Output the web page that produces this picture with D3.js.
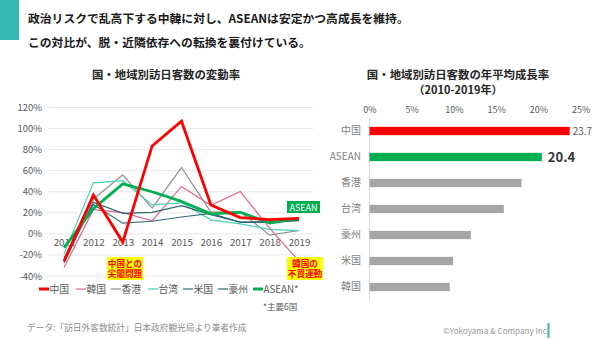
<!DOCTYPE html>
<html><head><meta charset="utf-8">
<script src="https://cdn.jsdelivr.net/npm/d3@7"></script>
<style>
html,body{margin:0;padding:0;background:#fff;}
svg{display:block;font-family:"Noto Sans CJK JP","Noto Sans",sans-serif;}
</style></head>
<body><svg id="c" width="600" height="339"></svg>
<script>
const years = [2011,2012,2013,2014,2015,2016,2017,2018,2019];
const seriesNames = ["中国","韓国","香港","台湾","米国","豪州","ASEAN*"];
const china  = [-26, 37, -7.8, 83.5, 107, 27.5, 15.4, 13.6, 14.7];
const korea  = [-32, 23, 20.2, 12.4, 45, 27.2, 40.2, 5.4, -26];
const hk     = [-28, 33, 56, 24.5, 63, 20.7, 21, -1.2, 3.2];
const taiwan = [-19, 48.5, 50.5, 27.5, 29.5, 13.3, 9.5, 4.2, 3];
const usa    = [-23, 28, 10.2, 12, 16, 19.5, 11, 11, 12.8];
const aus    = [-27, 30, 19.5, 20.5, 26.8, 18.3, 11.2, 11.6, 12.5];
const asean  = [-13, 24, 47.5, 40, 30.8, 19, 20.5, 10.3, 14.8];
const yTicks = [-40,-20,0,20,40,60,80,100,120];

const barCats = ["中国","ASEAN","香港","台湾","豪州","米国","韓国"];
const barVals = [23.7, 20.4, 18.0, 15.9, 12.0, 9.9, 9.5];
const barTicks = [0,5,10,15,20,25];

const svg = d3.select("#c");
const F = '"Noto Sans CJK JP","Noto Sans",sans-serif';

// header
svg.append("rect").attr("x",0).attr("y",0).attr("width",19).attr("height",40).attr("fill","#38b6b4");
svg.append("text").attr("x",28).attr("y",23).attr("font-size",11.8).attr("font-weight","bold").attr("fill","#1a1a1a")
  .text("政治リスクで乱高下する中韓に対し、ASEANは安定かつ高成長を維持。");
svg.append("text").attr("x",28).attr("y",47).attr("font-size",11.8).attr("font-weight","bold").attr("fill","#1a1a1a")
  .text("この対比が、脱・近隣依存への転換を裏付けている。");

// ===== Left line chart =====
const x = d3.scalePoint().domain(years).range([64,299]);
const y = d3.scaleLinear().domain([-40,120]).range([276,107.5]);

svg.append("text").attr("x",166).attr("y",79).attr("text-anchor","middle").attr("font-size",11.4)
  .attr("font-weight","bold").attr("fill","#262626").text("国・地域別訪日客数の変動率");

svg.append("g").selectAll("line").data(yTicks).join("line")
  .attr("x1",49).attr("x2",313).attr("y1",d=>y(d)).attr("y2",d=>y(d))
  .attr("stroke","#e6e6e6").attr("stroke-width",1);
const yAx = d3.axisLeft(y).tickValues(yTicks).tickFormat(d=>d+"%").tickSize(0).tickPadding(0);
const yg = svg.append("g").attr("transform","translate(42,0)").call(yAx);
yg.select(".domain").remove();
yg.selectAll("text").attr("font-size",9.5).attr("fill","#595959").attr("font-family",F);

const xAx = d3.axisBottom(x).tickSize(0).tickPadding(5);
const xg = svg.append("g").attr("transform",`translate(0,${y(0)})`).call(xAx);
xg.select(".domain").remove();
xg.selectAll("text").attr("font-size",9.8).attr("fill","#595959").attr("font-family",F);

const line = d3.line().x((d,i)=>x(years[i])).y(d=>y(d));
const thin = [
  {v:korea, c:"#e8638c"},
  {v:hk, c:"#8c8c8c"},
  {v:taiwan, c:"#45d4b4"},
  {v:usa, c:"#2f6f80"},
  {v:aus, c:"#2c6474"}
];
thin.forEach(s=>{
  svg.append("path").attr("d",line(s.v)).attr("fill","none").attr("stroke",s.c).attr("stroke-width",1.2);
});
svg.append("path").attr("d",line(asean)).attr("fill","none").attr("stroke","#00b050").attr("stroke-width",2.8).attr("stroke-linejoin","round");
svg.append("path").attr("d",line(china)).attr("fill","none").attr("stroke","#ff0000").attr("stroke-width",2.8).attr("stroke-linejoin","miter");

// annotations
function note(cx, top, lines){
  svg.append("rect").attr("x",cx-18).attr("y",top).attr("width",36).attr("height",23).attr("fill","#ffff00");
  const t = svg.append("text").attr("x",cx).attr("y",top+9.5).attr("text-anchor","middle")
      .attr("font-size",8.6).attr("font-weight","bold").attr("fill","#ff0000");
  lines.forEach((s,i)=>{
    t.append("tspan").attr("x",cx).attr("dy",i===0?0:10.5).text(s);
  });
}
note(125, 257, ["中国との","尖閣問題"]);
note(305, 257, ["韓国の","不買運動"]);

svg.append("rect").attr("x",287).attr("y",201).attr("width",33).attr("height",12).attr("fill","#00b050");
svg.append("text").attr("x",303.5).attr("y",210.5).attr("text-anchor","middle").attr("font-size",9)
  .attr("fill","#ffffff").text("ASEAN");

// legend
const legColors = ["#ff0000","#e8638c","#8c8c8c","#45d4b4","#2f6f80","#2c6474","#00b050"];
const legX = [39,76,111,148,183,218,253];
seriesNames.forEach((n,i)=>{
  const thick = (i===0||i===6);
  svg.append("line").attr("x1",legX[i]).attr("x2",legX[i]+10).attr("y1",289).attr("y2",289)
    .attr("stroke",legColors[i]).attr("stroke-width",thick?3:1.2);
  svg.append("text").attr("x",legX[i]+10.5).attr("y",292.8).attr("font-size",9.8).attr("fill","#595959").text(n);
});
svg.append("text").attr("x",263).attr("y",310).attr("font-size",8.5).attr("fill","#595959").text("*主要6国");

svg.append("text").attr("x",27).attr("y",331).attr("font-size",8.7).attr("fill","#8c8c8c")
  .text("データ:「訪日外客数統計」日本政府観光局より筆者作成");

// ===== Right bar chart =====
svg.append("text").attr("x",458).attr("y",79).attr("text-anchor","middle").attr("font-size",11.4)
  .attr("font-weight","bold").attr("fill","#262626").text("国・地域別訪日客数の年平均成長率");
svg.append("text").attr("x",458).attr("y",93.5).attr("text-anchor","middle").attr("font-size",11)
  .attr("font-weight","bold").attr("fill","#262626").text("（2010-2019年）");

const bx = d3.scaleLinear().domain([0,25]).range([369.5,580.7]);
const by = d3.scaleBand().domain(barCats).range([118,300]).paddingInner(0.68).paddingOuter(0.34);

const bxAx = d3.axisTop(bx).tickValues(barTicks).tickFormat(d=>d+"%").tickSize(0).tickPadding(0);
const bxg = svg.append("g").attr("transform","translate(0,113)").call(bxAx);
bxg.select(".domain").remove();
bxg.selectAll("text").attr("font-size",9).attr("fill","#595959").attr("font-family",F);

svg.append("line").attr("x1",369.5).attr("x2",369.5).attr("y1",118).attr("y2",300).attr("stroke","#d9d9d9").attr("stroke-width",1);

const byAx = d3.axisLeft(by).tickSize(0).tickPadding(0);
const byg = svg.append("g").attr("transform","translate(361,0)").call(byAx);
byg.select(".domain").remove();
byg.selectAll("text").attr("font-size",10).attr("fill","#7f7f7f").attr("font-family",F);

const barCol = ["#ff0000","#00b050","#a6a6a6","#a6a6a6","#a6a6a6","#a6a6a6","#a6a6a6"];
svg.selectAll("rect.bar").data(barVals).join("rect").attr("class","bar")
  .attr("x",bx(0)).attr("y",(d,i)=>by(barCats[i])).attr("width",d=>bx(d)-bx(0)).attr("height",by.bandwidth())
  .attr("fill",(d,i)=>barCol[i]);

svg.append("text").attr("x",bx(barVals[0])+3).attr("y",by(barCats[0])+by.bandwidth()/2+3.5)
  .attr("font-size",10).attr("fill","#595959").text(barVals[0].toFixed(1));
svg.append("text").attr("x",bx(barVals[1])+6).attr("y",by(barCats[1])+by.bandwidth()/2+4.5)
  .attr("font-size",13).attr("font-weight","bold").attr("fill","#333333").text(barVals[1].toFixed(1));

svg.append("text").attr("x",443).attr("y",334).attr("font-size",8.1).attr("fill","#999999").text("©Yokoyama & Company Inc.");
svg.append("rect").attr("x",547.5).attr("y",323).attr("width",2).attr("height",15).attr("fill","#38b6b4");
</script></body></html>
